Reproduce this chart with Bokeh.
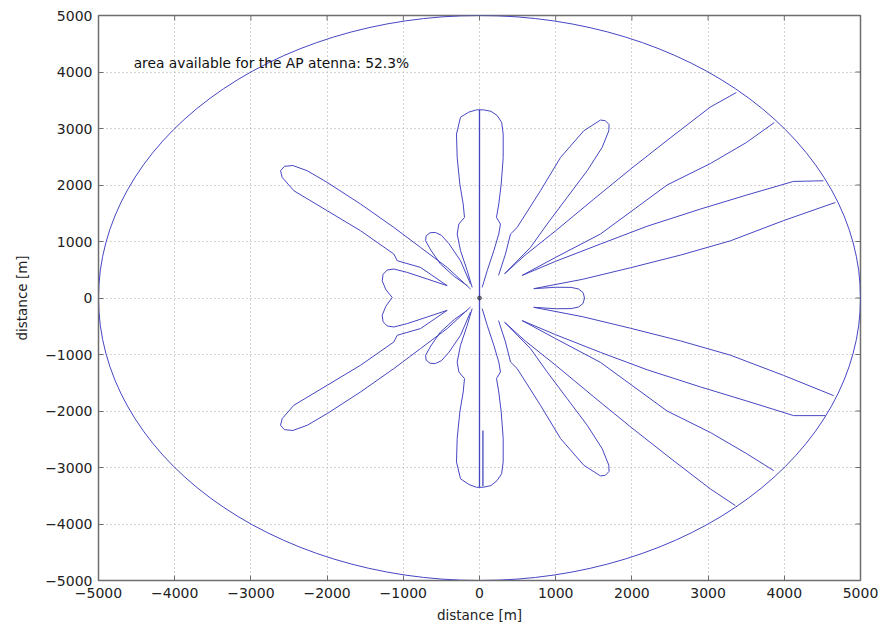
import math
from bokeh.plotting import figure
from bokeh.models import Range1d, FixedTicker, Label
from bokeh.embed import file_html
from bokeh.resources import INLINE

# ---- data (metres) ----
ticks = [-5000, -4000, -3000, -2000, -1000, 0, 1000, 2000, 3000, 4000, 5000]
axis_min = -5000
axis_max = 5000
limit_radius = 5000
note_text = "area available for the AP atenna: 52.3%"
note_x = -4539
note_y = 4168

# east lobe (0 deg) with the +/-20 deg boundary lines
east_x = [4670, 3990, 3293, 2640, 1981, 1350, 712, 1000, 1200, 1300, 1360, 1378,
          1360, 1300, 1200, 1000, 712, 1350, 1981, 2640, 3293, 3990, 4648]
east_y = [1691, 1370, 1012, 760, 535, 330, 165, 190, 188, 160, 95, 0,
          -95, -160, -188, -190, -165, -330, -535, -760, -1012, -1370, -1728]

# 25 / 39 deg boundary pair (upper) and its lower twin
ne_x = [4513, 4119, 3500, 2899, 2200, 1587, 1000, 560, 1000, 1587, 2462, 3030, 3500, 3870]
ne_y = [2075, 2063, 1820, 1574, 1270, 955, 650, 400, 720, 1132, 2000, 2380, 2750, 3106]
se_x = [4539, 4123, 3500, 2899, 2200, 1587, 1000, 560, 1000, 1587, 2462, 3030, 3500, 3861]
se_y = [-2082, -2082, -1820, -1574, -1270, -962, -650, -400, -720, -1139, -2000, -2380, -2750, -3055]

# 47 deg boundary line + 60 deg lobe (upper) and lower twin
n60_x = [3371, 3030, 2500, 2000, 1500, 1000, 600, 330, 669, 888, 1150, 1413, 1609, 1697,
         1700, 1650, 1587, 1368, 1063, 800, 494, 407, 341, 250]
n60_y = [3637, 3380, 2830, 2300, 1750, 1190, 760, 430, 895, 1309, 1780, 2252, 2664, 2959,
         3070, 3140, 3149, 2959, 2487, 1898, 1249, 1132, 778, 400]
s60_x = [3358, 3030, 2500, 2000, 1500, 1000, 600, 330, 669, 888, 1150, 1413, 1609, 1697,
         1700, 1650, 1587, 1368, 1063, 800, 494, 407, 341, 250]
s60_y = [-3674, -3380, -2830, -2300, -1750, -1190, -760, -430, -895, -1309, -1780, -2252, -2664, -2959,
         -3070, -3140, -3149, -2959, -2487, -1898, -1249, -1132, -778, -400]

# vertical lobes (90 / 270 deg)
vn_x = [35, 101, 188, 253, 275, 223, 253, 285, 311, 311, 290, 232, 150, 50, -40, -140,
        -249, -302, -293, -258, -214, -197, -271, -293, -249, -161, -96]
vn_y = [188, 483, 837, 1132, 1309, 1426, 1663, 2017, 2487, 2901, 3110, 3230, 3305, 3330, 3330, 3290,
        3200, 2901, 2487, 2017, 1663, 1426, 1309, 1132, 837, 483, 188]
vs_x = [35, 101, 188, 253, 275, 223, 253, 285, 311, 311, 290, 232, 150, 50, -40, -140,
        -249, -302, -293, -258, -214, -197, -271, -293, -249, -161, -96]
vs_y = [-188, -483, -837, -1132, -1309, -1426, -1663, -2017, -2487, -2901, -3110, -3230, -3320, -3350, -3350, -3300,
        -3200, -2901, -2487, -2017, -1663, -1426, -1309, -1132, -837, -483, -188]

# small lobes (118 / 242 deg)
sn_x = [-118, -249, -400, -500, -580, -650, -700, -708, -640, -512, -330, -161]
sn_y = [248, 660, 960, 1110, 1160, 1155, 1100, 1014, 850, 601, 380, 218]
ss_x = [-118, -249, -400, -500, -580, -650, -700, -708, -640, -512, -330, -161]
ss_y = [-248, -660, -960, -1110, -1160, -1155, -1100, -1014, -850, -601, -380, -218]

# west: 139 deg lobe, heart-shaped 180 deg lobe, 221 deg lobe
w_x = [-118, -424, -774, -1124, -1561, -1998, -2260, -2450, -2560, -2611, -2589, -2436, -1998,
       -1561, -1124, -1080, -774, -424, -686, -948, -1124, -1211, -1265, -1277, -1230, -1146,
       -1230, -1277, -1265, -1211, -1124, -948, -686, -424, -774, -1080, -1124, -1561, -1998,
       -2436, -2589, -2611, -2560, -2450, -2260, -1998, -1561, -1124, -774, -424, -118]
w_y = [159, 541, 895, 1249, 1663, 2045, 2252, 2345, 2330, 2252, 2134, 1898, 1544,
       1190, 778, 660, 541, 218, 336, 453, 513, 495, 420, 306, 150, 10,
       -150, -306, -420, -495, -513, -453, -336, -218, -541, -660, -778, -1190, -1544,
       -1898, -2134, -2252, -2330, -2345, -2252, -2045, -1663, -1249, -895, -541, -159]

# centre spokes
spoke_x = [[0, 0], [45, 45]]
spoke_y = [[3330, -3350], [-2347, -3330]]

BLUE = "#4646c2"
GRAY = "#6e6e6e"
FONT = "DejaVu Sans"

p = figure(width=878, height=628, x_range=Range1d(axis_min, axis_max), y_range=Range1d(axis_min, axis_max),
           output_backend="svg", toolbar_location=None,
           min_border_left=98, min_border_right=18, min_border_top=15, min_border_bottom=48)
p.background_fill_color = "white"
p.border_fill_color = "white"
p.outline_line_color = GRAY
p.outline_line_width = 1.5

for ax in (p.xaxis[0], p.yaxis[0]):
    ax.ticker = FixedTicker(ticks=ticks)
    ax.major_tick_in = 5
    ax.major_tick_out = 0
    ax.minor_tick_line_color = None
    ax.axis_line_color = GRAY
    ax.major_tick_line_color = GRAY
    ax.major_label_text_font = FONT
    ax.major_label_text_font_size = "14px"
    ax.major_label_text_color = "#222222"
    ax.axis_label_text_font = FONT
    ax.axis_label_text_font_size = "13.5px"
    ax.axis_label_text_font_style = "normal"
    ax.axis_label_text_color = "#222222"

p.xaxis.axis_label = "distance [m]"
p.yaxis.axis_label = "distance [m]"
p.xaxis.major_label_standoff = 7
p.yaxis.major_label_standoff = 6
p.xaxis.axis_label_standoff = 6
p.yaxis.axis_label_standoff = 12

for g in (p.xgrid[0], p.ygrid[0]):
    g.ticker = FixedTicker(ticks=ticks)
    g.grid_line_color = "#a8a8a8"
    g.grid_line_dash = "1 3"
    g.grid_line_width = 1

# inward tick marks on the top and right edges of the box
p.scatter(x=ticks, y=[axis_max] * len(ticks), marker="dash", angle=math.pi / 2,
          size=10, line_color=GRAY, line_width=1)
p.scatter(x=[axis_max] * len(ticks), y=ticks, marker="dash", angle=0,
          size=10, line_color=GRAY, line_width=1)

p.ellipse(x=[0], y=[0], width=[2 * limit_radius], height=[2 * limit_radius],
          fill_color=None, line_color=BLUE, line_width=1)

p.multi_line(xs=[east_x, ne_x, se_x, n60_x, s60_x, vn_x, vs_x, sn_x, ss_x, w_x],
             ys=[east_y, ne_y, se_y, n60_y, s60_y, vn_y, vs_y, sn_y, ss_y, w_y],
             line_color=BLUE, line_width=1)
p.multi_line(xs=spoke_x, ys=spoke_y, line_color=BLUE, line_width=1.3)
p.scatter(x=[0], y=[0], size=4, color="#333333", alpha=0.6)

p.add_layout(Label(x=note_x, y=note_y, text=note_text, text_baseline="middle",
                   text_font=FONT, text_font_size="13.8px", text_color="#111111"))

open("out.html", "w").write(file_html(p, INLINE))
